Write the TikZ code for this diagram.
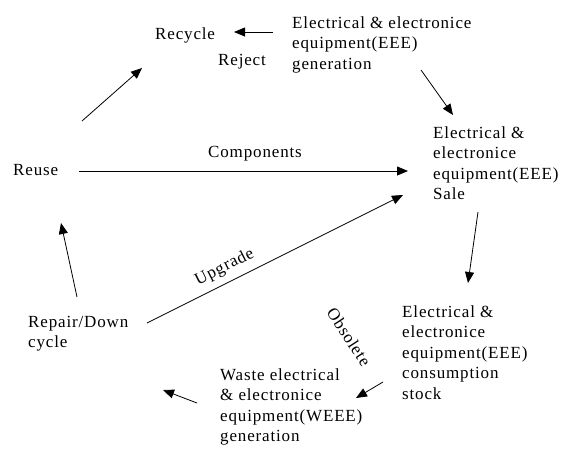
\documentclass[tikz,border=0pt]{standalone}
\usepackage{fontspec}
\setmainfont{Liberation Serif}[LetterSpace=5]
\usepackage{tikz}
\usetikzlibrary{positioning,calc,arrows.meta}

\begin{document}
\begin{tikzpicture}[
			x=1pt, y=-1pt,
			every node/.style = {inner sep=0pt, align=left,
				font=\fontsize{17}{20.5}\selectfont},
			box/.style = {anchor=north west},
			flow/.style = {line width=0.8pt,
				-{Triangle[length=11pt,width=9pt]}}]
			\useasboundingbox (0,0) rectangle (567,448);
			\node[anchor=west] (recycle) at (155,35) {Recycle};
			\node[anchor=west] (reject) at (218,62) {Reject};
			\node[box] (eeegen) at (292,16) {Electrical \& electronice\\equipment(EEE)\\generation};
			\node[box] (sale) at (433,126) {Electrical \&\\electronice\\equipment(EEE)\\Sale};
			\node[anchor=west] (reuse) at (13,170) {Reuse};
			\node[box] (repair) at (28,316) {Repair/Down\\cycle};
			\node[box] (stock) at (402,305) {Electrical \&\\electronice\\equipment(EEE)\\consumption\\stock};
			\node[box] (weee) at (220,368) {Waste electrical\\\& electronice\\equipment(WEEE)\\generation};
			\node[rotate=-57] (obsolete) at (349,337) {Obsolete};
			
			\draw[flow] ($(eeegen.north west)+(-19,16)$) -- ($(recycle.west)+(79,-3)$);
			\draw[flow] ($(eeegen.north west)+(129,54)$) -- ($(sale.north west)+(20,-11)$);
			\draw[flow] ($(reuse.west)+(66,1)$) -- 
				node[above=9pt, pos=.535] (components) {Components}
				($(sale.north west)+(-25,45)$);
			\draw[flow] ($(reuse.west)+(69,-49)$) -- ($(recycle.west)+(-13,33)$);
			\draw[flow] ($(repair.north west)+(49,-19)$) -- ($(reuse.west)+(48,53)$);
			\draw[flow] ($(repair.north west)+(119,7)$) -- 
				node[sloped, above=7pt, pos=.33] (upgrade) {Upgrade}
				($(sale.north west)+(-30,69)$);
			\draw[flow] ($(sale.north west)+(45,86)$) -- ($(stock.north west)+(66,-22)$);
			\draw[flow] ($(stock.north west)+(-19,77)$) -- ($(weee.north west)+(136,30)$);
			\draw[flow] ($(weee.north west)+(-23,35)$) -- ($(repair.north west)+(135,74)$);
\end{tikzpicture}
\end{document}
